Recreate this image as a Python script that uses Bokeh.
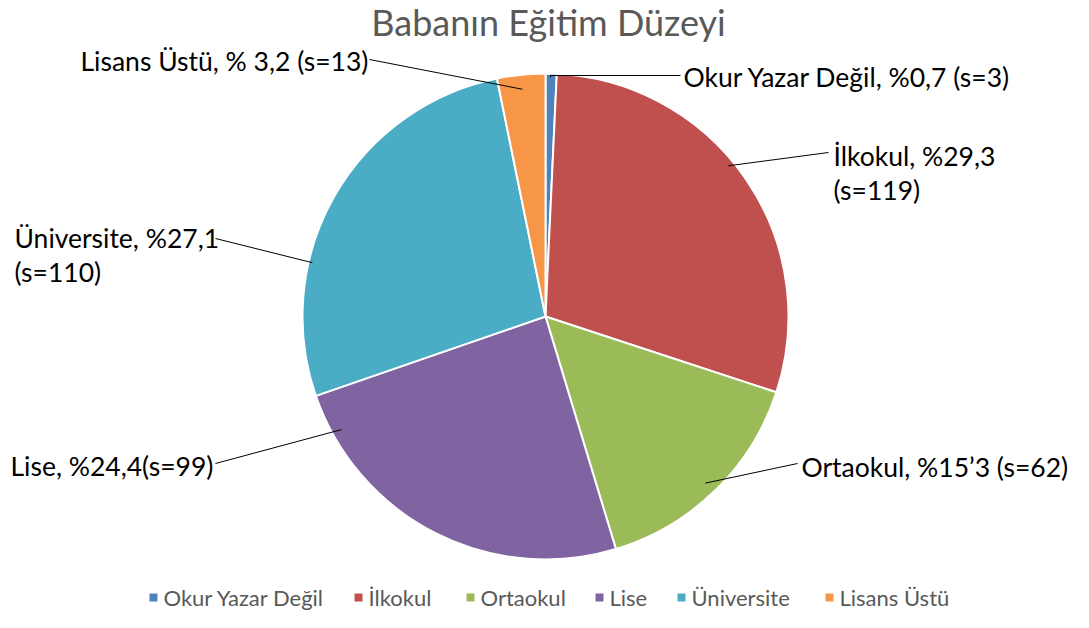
import numpy as np
from bokeh.plotting import figure
from bokeh.models import Range1d, ColumnDataSource
from bokeh.core.properties import value
from bokeh.embed import file_html
from bokeh.resources import INLINE

# ---- data ----
categories = ["Okur Yazar Değil", "İlkokul", "Ortaokul", "Lise", "Üniversite", "Lisans Üstü"]
counts = [3, 119, 62, 99, 110, 13]
label_texts = [
    "Okur Yazar Değil, %0,7 (s=3)",
    "İlkokul, %29,3\n(s=119)",
    "Ortaokul, %15’3 (s=62)",
    "Lise, %24,4(s=99)",
    "Üniversite, %27,1\n(s=110)",
    "Lisans Üstü, % 3,2 (s=13)",
]
title_text = "Babanın Eğitim Düzeyi"
colors = ["#4F81BD", "#C0504D", "#9BBB59", "#8064A2", "#4BACC6", "#F79646"]

# ---- layout (image-pixel coordinates, y flipped) ----
W, H = 1073, 612
def Y(img_y):
    return 628 - img_y

cx, cy, R = 545, Y(316), 243
FONT = "Lato"

p = figure(width=W, height=H, output_backend="svg", toolbar_location=None,
           x_range=Range1d(0, W), y_range=Range1d(628 - H, 628),
           min_border=0, outline_line_color=None)
p.axis.visible = False
p.grid.visible = False
p.background_fill_color = "white"

vals = np.array(counts, dtype=float)
frac = vals / vals.sum()
cum = np.concatenate([[0], np.cumsum(frac)])
start = np.pi / 2 - 2 * np.pi * cum[:-1]
end = np.pi / 2 - 2 * np.pi * cum[1:]
src = ColumnDataSource(dict(start=start, end=end, color=colors, cat=categories))
p.wedge(x=cx, y=cy, radius=R, start_angle="start", end_angle="end", direction="clock",
        fill_color="color", line_color="white", line_width=2, source=src)

# leader lines: anchor (angle deg, radius fraction) -> text point
anchor_ang = [88.8, 39.5, -46.2, -151.0, 167.0, 95.8]
anchor_r = [0.985, 0.975, 0.95, 0.96, 0.985, 0.94]
line_end = [(680, 75), (828, 152), (797, 463), (215, 463), (215, 238), (369, 59)]
for a, rf, (ex, ey) in zip(anchor_ang, anchor_r, line_end):
    ax = cx + R * rf * np.cos(np.radians(a))
    ay = cy + R * rf * np.sin(np.radians(a))
    if 85 < a < 90:
        p.line([ax, ax, ex], [ay, Y(ey), Y(ey)], line_color="black", line_width=1)
    else:
        p.line([ax, ex], [ay, Y(ey)], line_color="black", line_width=1)

# label texts
lab_x = [683, 833, 801, 10, 14, 80]
lab_y = [76, 155, 466, 465, 237, 60]
for t, x, y in zip(label_texts, lab_x, lab_y):
    for i, ln in enumerate(t.split("\n")):
        p.text(x=[x], y=[Y(y + i * 34)], text=[ln], text_font=value(FONT),
               text_font_size="26.5px", text_color="#000000", text_align="left",
               text_baseline="middle")

# title
p.text(x=[548], y=[Y(21)], text=[title_text], text_font=value(FONT),
       text_font_size="36px", text_color="#595959", text_align="center",
       text_baseline="middle")

# legend
leg_x = [153, 358, 470, 599, 681, 829]
leg_y = 597
p.scatter(x=leg_x, y=[Y(leg_y)] * len(leg_x), marker="square", size=8,
          fill_color=colors, line_color=None)
p.text(x=[lx + 10 for lx in leg_x], y=[Y(leg_y)] * len(leg_x), text=categories,
       text_font=value(FONT), text_font_size="22px", text_color="#595959",
       text_align="left", text_baseline="middle")

open("out.html", "w").write(file_html(p, INLINE))
